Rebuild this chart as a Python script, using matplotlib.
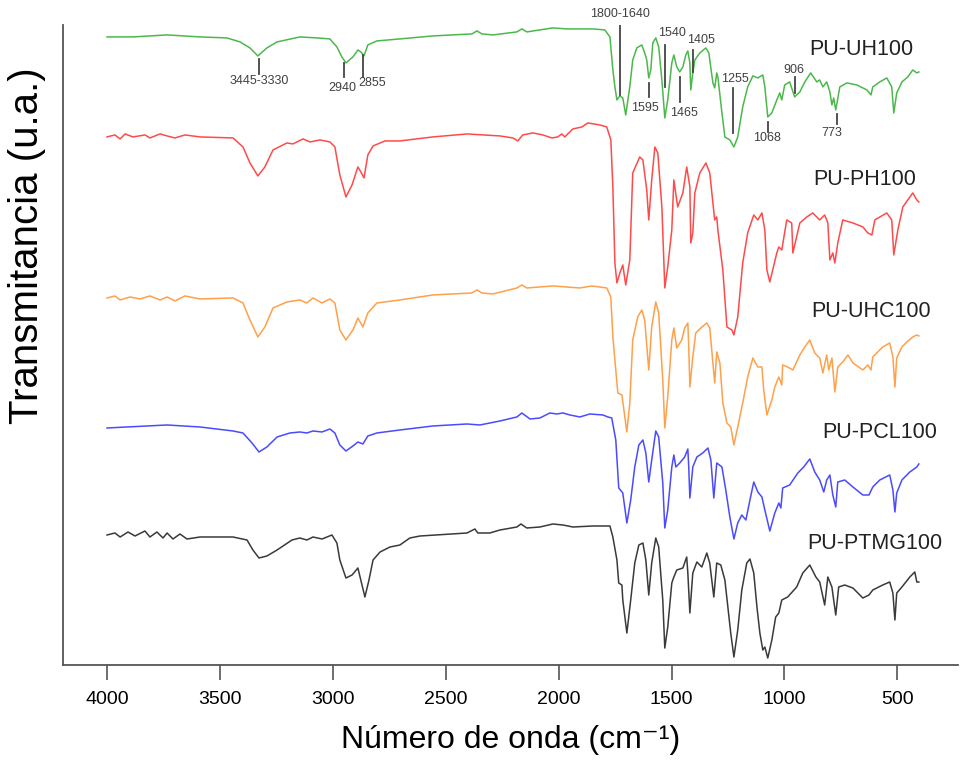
import matplotlib
matplotlib.use("Agg")
import matplotlib.pyplot as plt

# =========================================================
# data (transmittance in a.u., stacked)
# =========================================================
GREEN_WN = [4000, 3885, 3734, 3588, 3469, 3411, 3367, 3332, 3292, 3247,
            3146, 3070, 3013, 2982, 2960, 2942, 2911, 2889, 2876, 2862,
            2845, 2805, 2703, 2557, 2384, 2362, 2340, 2291, 2185, 2163,
            2141, 2026, 1964, 1849, 1796, 1773, 1760, 1751, 1742, 1729,
            1716, 1703, 1685, 1672, 1654, 1632, 1619, 1610, 1601, 1592,
            1583, 1570, 1557, 1543, 1530, 1517, 1499, 1490, 1477, 1464,
            1450, 1437, 1428, 1419, 1415, 1406, 1397, 1375, 1348, 1335,
            1317, 1309, 1300, 1295, 1277, 1264, 1242, 1224, 1207, 1185,
            1163, 1140, 1118, 1096, 1087, 1074, 1056, 1034, 1021, 1012,
            999, 977, 955, 932, 910, 884, 857, 844, 830, 813,
            799, 790, 782, 773, 755, 724, 680, 635, 617, 609,
            578, 547, 525, 516, 503, 480, 454, 432, 414, 405]
GREEN_T = [628, 628, 630, 628, 627, 623, 617, 609, 617, 623,
           628, 627, 626, 618, 608, 602, 608, 615, 613, 609,
           620, 624, 626, 629, 631, 634, 631, 630, 633, 636,
           633, 637, 636, 636, 635, 628, 595, 578, 565, 569,
           567, 550, 578, 605, 617, 620, 612, 605, 587, 595,
           622, 627, 618, 585, 547, 565, 602, 610, 598, 593,
           598, 610, 614, 602, 575, 592, 605, 612, 617, 612,
           582, 577, 592, 588, 552, 528, 525, 518, 528, 558,
           578, 589, 587, 590, 578, 548, 552, 565, 572, 565,
           580, 583, 568, 573, 583, 592, 583, 585, 578, 583,
           573, 560, 567, 555, 578, 582, 580, 575, 570, 578,
           583, 587, 578, 552, 572, 583, 588, 595, 592, 593]

RED_WN = [4000, 3965, 3942, 3920, 3885, 3832, 3810, 3765, 3734, 3699,
          3655, 3588, 3442, 3398, 3367, 3332, 3301, 3265, 3203, 3177,
          3132, 3101, 3057, 3013, 2991, 2969, 2942, 2915, 2889, 2876,
          2862, 2845, 2822, 2769, 2703, 2557, 2406, 2260, 2203, 2181,
          2159, 2114, 2070, 2030, 2004, 1986, 1973, 1937, 1897, 1871,
          1818, 1787, 1769, 1760, 1751, 1742, 1729, 1716, 1703, 1685,
          1672, 1641, 1627, 1610, 1601, 1588, 1574, 1561, 1543, 1530,
          1517, 1499, 1490, 1473, 1450, 1433, 1419, 1415, 1406, 1397,
          1375, 1348, 1331, 1309, 1300, 1295, 1273, 1255, 1233, 1224,
          1207, 1185, 1163, 1136, 1118, 1100, 1087, 1078, 1065, 1052,
          1034, 1025, 1012, 990, 968, 963, 932, 901, 875, 844,
          822, 808, 799, 786, 777, 764, 742, 697, 653, 631,
          613, 600, 547, 525, 516, 498, 476, 432, 414, 405]
RED_T = [528, 530, 526, 531, 528, 530, 527, 531, 529, 527,
         530, 528, 527, 518, 502, 489, 498, 515, 522, 521,
         526, 523, 525, 523, 518, 490, 468, 480, 498, 493,
         487, 510, 519, 524, 524, 528, 531, 529, 527, 524,
         530, 532, 530, 527, 528, 531, 528, 536, 538, 542,
         540, 538, 525, 478, 402, 382, 392, 400, 380, 405,
         492, 508, 505, 475, 445, 485, 518, 512, 458, 377,
         398, 435, 485, 458, 472, 498, 478, 422, 432, 472,
         492, 502, 492, 445, 448, 435, 395, 338, 335, 330,
         348, 402, 432, 450, 445, 452, 435, 395, 383, 395,
         412, 418, 415, 445, 442, 412, 442, 448, 452, 445,
         450, 442, 405, 412, 402, 422, 445, 442, 438, 432,
         430, 445, 452, 445, 410, 435, 458, 472, 465, 463]

ORANGE_WN = [4000, 3965, 3942, 3898, 3854, 3810, 3765, 3734, 3699, 3655,
             3588, 3442, 3398, 3367, 3332, 3301, 3265, 3203, 3146, 3115,
             3088, 3048, 3013, 2991, 2969, 2942, 2911, 2889, 2867, 2845,
             2805, 2703, 2557, 2384, 2362, 2340, 2291, 2185, 2163, 2141,
             2026, 1906, 1853, 1787, 1769, 1760, 1751, 1738, 1720, 1698,
             1685, 1672, 1650, 1632, 1619, 1601, 1588, 1570, 1557, 1539,
             1530, 1517, 1499, 1490, 1477, 1455, 1442, 1428, 1424, 1419,
             1406, 1393, 1366, 1344, 1331, 1317, 1309, 1300, 1286, 1273,
             1255, 1238, 1224, 1207, 1185, 1163, 1140, 1118, 1100, 1092,
             1078, 1056, 1043, 1025, 1012, 1008, 986, 963, 932, 910,
             888, 866, 844, 830, 813, 804, 790, 777, 764, 742,
             719, 697, 653, 631, 617, 609, 565, 534, 520, 511,
             503, 480, 458, 432, 414, 405]
ORANGE_T = [367, 369, 365, 368, 366, 369, 365, 368, 364, 369,
            366, 367, 362, 345, 328, 338, 357, 363, 365, 362,
            367, 362, 366, 362, 335, 325, 335, 347, 338, 352,
            362, 365, 370, 372, 375, 372, 371, 377, 380, 377,
            379, 377, 379, 377, 368, 328, 305, 272, 270, 233,
            262, 325, 348, 355, 345, 295, 338, 363, 352, 285,
            237, 268, 325, 337, 317, 325, 337, 342, 318, 278,
            308, 332, 338, 342, 337, 302, 282, 313, 302, 262,
            242, 238, 220, 238, 262, 288, 307, 298, 298, 275,
            250, 265, 278, 288, 280, 300, 298, 295, 310, 318,
            325, 312, 307, 292, 310, 295, 307, 273, 298, 303,
            310, 302, 295, 300, 295, 308, 318, 322, 308, 278,
            307, 318, 323, 328, 330, 329]

BLUE_WN = [4000, 3734, 3588, 3442, 3398, 3358, 3327, 3292, 3247, 3190,
           3146, 3115, 3088, 3048, 3013, 2991, 2969, 2942, 2911, 2889,
           2867, 2845, 2805, 2703, 2557, 2406, 2349, 2260, 2185, 2163,
           2127, 2083, 2039, 2008, 1981, 1950, 1906, 1862, 1804, 1782,
           1765, 1747, 1734, 1716, 1698, 1681, 1663, 1645, 1627, 1614,
           1601, 1588, 1570, 1557, 1539, 1530, 1517, 1499, 1490, 1481,
           1464, 1442, 1428, 1424, 1419, 1406, 1388, 1362, 1339, 1326,
           1313, 1300, 1277, 1260, 1242, 1224, 1207, 1189, 1171, 1153,
           1136, 1118, 1100, 1087, 1065, 1043, 1025, 1016, 1008, 977,
           941, 915, 888, 866, 844, 826, 813, 799, 786, 773,
           764, 733, 697, 653, 626, 609, 578, 534, 520, 511,
           503, 480, 445, 414, 405]
BLUE_T = [237, 240, 238, 234, 232, 222, 213, 218, 228, 232,
          233, 232, 234, 233, 236, 232, 220, 214, 219, 223,
          221, 229, 232, 235, 239, 241, 240, 244, 248, 252,
          246, 247, 252, 251, 252, 250, 248, 251, 250, 248,
          247, 225, 177, 172, 142, 165, 198, 220, 225, 212,
          183, 205, 234, 228, 182, 137, 155, 198, 210, 198,
          202, 208, 216, 198, 167, 198, 208, 212, 217, 205,
          167, 202, 198, 175, 148, 126, 142, 150, 145, 165,
          183, 173, 168, 155, 134, 152, 162, 157, 177, 180,
          192, 198, 206, 193, 185, 173, 185, 190, 170, 158,
          183, 185, 178, 170, 170, 178, 185, 190, 175, 153,
          172, 185, 193, 198, 201]

BLACK_WN = [4000, 3965, 3942, 3907, 3876, 3832, 3810, 3779, 3752, 3734,
            3708, 3677, 3646, 3588, 3442, 3380, 3354, 3327, 3292, 3247,
            3181, 3146, 3115, 3088, 3048, 3004, 2982, 2969, 2942, 2915,
            2889, 2876, 2858, 2840, 2822, 2791, 2747, 2703, 2659, 2614,
            2406, 2371, 2358, 2305, 2260, 2185, 2167, 2141, 2083, 2026,
            1981, 1937, 1849, 1773, 1760, 1742, 1734, 1720, 1716, 1698,
            1681, 1663, 1645, 1627, 1614, 1601, 1588, 1570, 1557, 1539,
            1530, 1517, 1499, 1490, 1477, 1450, 1433, 1428, 1419, 1406,
            1388, 1366, 1344, 1331, 1313, 1300, 1282, 1264, 1251, 1238,
            1224, 1207, 1189, 1167, 1153, 1136, 1122, 1109, 1096, 1087,
            1074, 1056, 1039, 1025, 1012, 986, 946, 919, 888, 861,
            844, 822, 808, 790, 773, 760, 733, 697, 653, 626,
            609, 565, 534, 520, 511, 503, 480, 445, 423, 414,
            405]
BLACK_T = [130, 132, 128, 133, 129, 134, 128, 133, 127, 132,
           126, 131, 126, 128, 128, 125, 115, 107, 109, 115,
           125, 127, 125, 128, 126, 130, 122, 105, 87, 90,
           97, 85, 68, 85, 105, 113, 118, 120, 127, 129,
           132, 136, 132, 132, 135, 138, 141, 137, 138, 141,
           140, 138, 139, 139, 128, 105, 82, 80, 65, 32,
           65, 102, 120, 122, 105, 70, 102, 127, 118, 65,
           17, 38, 82, 88, 95, 97, 108, 92, 52, 92,
           103, 98, 112, 102, 68, 102, 100, 85, 58, 32,
           8, 35, 75, 102, 106, 92, 58, 32, 15, 18,
           7, 25, 48, 52, 65, 68, 78, 92, 100, 88,
           83, 60, 88, 78, 50, 78, 80, 77, 67, 70,
           75, 80, 83, 72, 45, 72, 78, 88, 93, 83,
           83]

SAMPLES = ["PU-UH100", "PU-PH100", "PU-UHC100", "PU-PCL100", "PU-PTMG100"]
COLORS = ["#4cb84c", "#ff4a4a", "#ffa04a", "#4a4aff", "#3a3a3a"]
LABEL_WN = [658, 645, 618, 578, 600]
LABEL_T = [615, 485, 353, 232, 122]

# band assignments on the PU-UH100 curve: text, wavenumber, line bottom, line top, text pos
BAND_TEXT = ["3445-3330", "2940", "2855", "1800-1640", "1540", "1405",
             "1595", "1465", "1255", "1068", "906", "773"]
BAND_WN = [3327, 2951, 2867, 1729, 1530, 1406, 1601, 1464, 1229, 1074, 955, 768]
BAND_LO = [591, 588, 588, 570, 578, 593, 568, 563, 532, 533, 572, 541]
BAND_HI = [606, 602, 610, 640, 620, 615, 582, 588, 577, 543, 588, 551]
BAND_TX = [3327, 2960, 2827, 1729, 1499, 1370, 1619, 1446, 1220, 1078, 959, 790]
BAND_TY = [584, 577, 582, 651, 632, 625, 557, 552, 586, 527, 595, 532]

XTICKS = [4000, 3500, 3000, 2500, 2000, 1500, 1000, 500]

plt.rcParams["font.family"] = ["Liberation Sans", "DejaVu Sans"]

fig = plt.figure(figsize=(9.6, 7.74), dpi=100)
ax = fig.add_axes([0.0656, 0.1408, 0.932, 0.827])

curves = [(GREEN_WN, GREEN_T), (RED_WN, RED_T), (ORANGE_WN, ORANGE_T),
          (BLUE_WN, BLUE_T), (BLACK_WN, BLACK_T)]
for (wn, t), col, name, lx, ly in zip(curves, COLORS, SAMPLES, LABEL_WN, LABEL_T):
    ax.plot(wn, t, color=col, linewidth=1.1, solid_joinstyle="round")
    ax.text(lx, ly, name, fontsize=15.5, ha="center", va="center", color="#222222")

for txt, wn, lo, hi, tx, ty in zip(BAND_TEXT, BAND_WN, BAND_LO, BAND_HI, BAND_TX, BAND_TY):
    ax.plot([wn, wn], [lo, hi], color="#444444", linewidth=1.3)
    ax.text(tx, ty, txt, fontsize=9, ha="center", va="center", color="#404040")

ax.set_xlim(4195, 233)
ax.set_ylim(0, 640)
ax.set_xticks(XTICKS)
ax.set_xticklabels([str(v) for v in XTICKS])
ax.set_yticks([])
for side in ["top", "right"]:
    ax.spines[side].set_visible(False)
for side in ["left", "bottom"]:
    ax.spines[side].set_color("#555555")
    ax.spines[side].set_linewidth(1.3)
ax.tick_params(axis="x", direction="out", length=11, width=1.2, color="#555555",
               labelsize=14, pad=8)

ax.set_xlabel("Número de onda (cm⁻¹)", fontsize=23, labelpad=12)
ax.set_ylabel("Transmitancia (u.a.)", fontsize=29)
ax.yaxis.set_label_coords(-0.019, 0.655)

fig.savefig("out.png", dpi=100)
